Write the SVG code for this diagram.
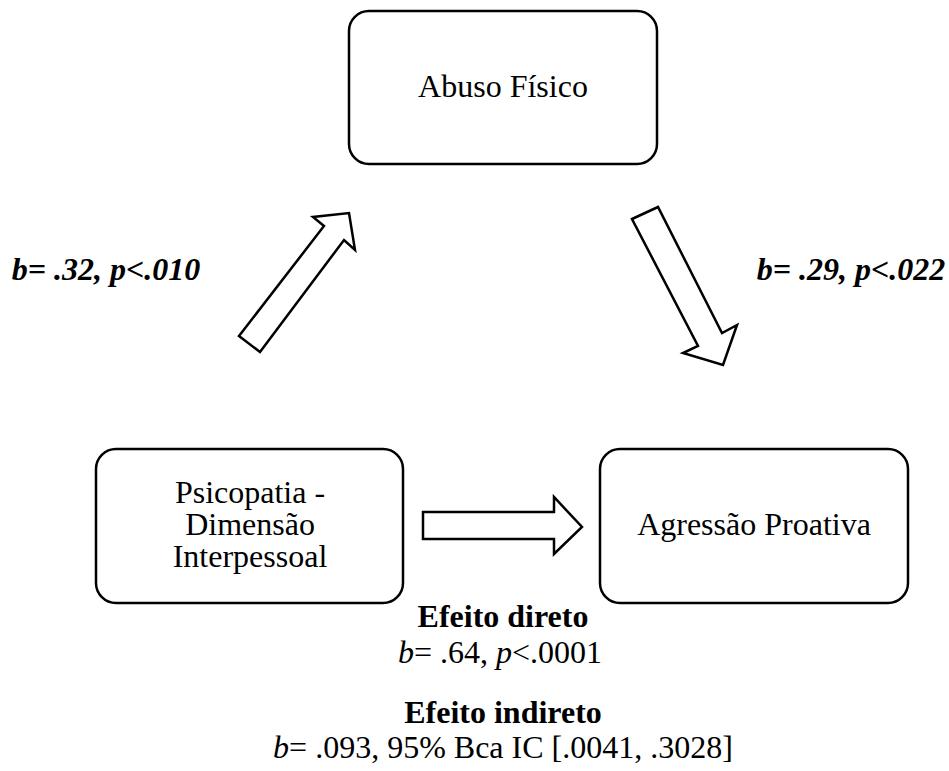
<svg xmlns="http://www.w3.org/2000/svg" width="949" height="771" viewBox="0 0 949 771">
<style>
.box{fill:#fff;stroke:#000;stroke-width:2.5}
.arr{fill:#fff;stroke:#000;stroke-width:2.5;stroke-linejoin:miter}
.t{font-family:"Liberation Serif","Times New Roman",serif;font-size:32px;fill:#000;text-anchor:middle}
.bi{font-weight:bold;font-style:italic}
.b{font-weight:bold}
.i{font-style:italic}
</style>
<rect width="949" height="771" fill="#fff"/>
<g id="abuso">
<rect class="box" x="349" y="11" width="308" height="153" rx="20"/>
<text class="t" x="503" y="97">Abuso Físico</text>
</g>
<g id="psicopatia">
<rect class="box" x="96" y="449" width="307" height="154" rx="20"/>
<text class="t" x="250" y="503">Psicopatia -</text>
<text class="t" x="250" y="535">Dimensão</text>
<text class="t" x="250" y="567">Interpessoal</text>
</g>
<g id="agressao">
<rect class="box" x="600" y="449" width="308" height="154" rx="20"/>
<text class="t" x="754" y="535">Agressão Proativa</text>
</g>
<g id="connectors">
<polygon class="arr" points="239,336 260,352 344,240 355,250 349,213 313,217 324,226"/>
<polygon class="arr" points="632,219 658,207 722,333 737,325 723,365 683,353 698,346"/>
<polygon class="arr" points="423,512 554,512 554,497 582,527 554,554 554,539 423,539"/>
</g>
<g id="labels">
<text class="t bi" x="106" y="280">b= .32, p&lt;.010</text>
<text class="t bi" x="851" y="280">b= .29, p&lt;.022</text>
<text class="t b" x="503" y="627">Efeito direto</text>
<text class="t" x="500" y="663"><tspan class="i">b</tspan>= .64, <tspan class="i">p</tspan>&lt;.0001</text>
<text class="t b" x="503" y="723">Efeito indireto</text>
<text class="t" x="503" y="758"><tspan class="i">b</tspan>= .093, 95% Bca IC [.0041, .3028]</text>
</g>
</svg>
